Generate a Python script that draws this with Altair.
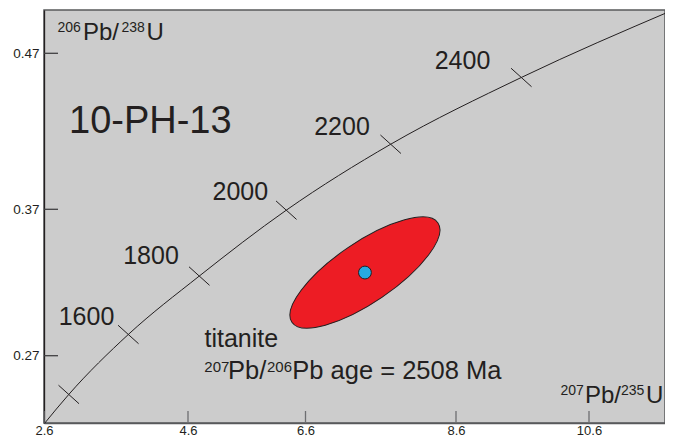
import altair as alt
import pandas as pd

# ---- axis ticks ----
x_ticks = [2.6, 4.6, 6.6, 8.6, 10.6]
y_ticks = [0.27, 0.37, 0.47]

# piecewise scale, matching the uneven tick spacing of the original figure
x_domain = [2.6, 4.6, 6.6, 8.6, 10.6, 11.74]
y_domain = [0.2240, 0.27, 0.37, 0.47, 0.4978]

# ---- concordia curve ----
curve_x = [2.6, 2.944, 3.771, 4.792, 6.273, 7.732, 9.582, 11.86]
curve_y = [0.2233, 0.2435, 0.2845, 0.3244, 0.3694, 0.4117, 0.4545, 0.4978]

# age ticks on the concordia (Ma)
tick_age = [1400, 1600, 1800, 2000, 2200, 2400]
tick_x = [2.944, 3.771, 4.792, 6.273, 7.732, 9.582]
tick_y = [0.2435, 0.2845, 0.3244, 0.3694, 0.4117, 0.4545]

# age labels
label_text = ["1600", "1800", "2000", "2200", "2400"]
label_x = [3.190, 4.086, 5.490, 7.085, 8.698]
label_y = [0.2910, 0.3326, 0.3760, 0.4176, 0.4599]

# titanite analysis (ellipse centre)
ell_x = [7.39]
ell_y = [0.3268]

W, H = 621, 413
INK = "#231f20"
FONT = "Liberation Sans"

xs = alt.Scale(domain=x_domain, range=[0, 144, 261.5, 412, 545, 621], nice=False, zero=False)
ys = alt.Scale(domain=y_domain, range=[413, 345.7, 199.3, 43.3, 0], nice=False, zero=False)

xa = alt.Axis(values=x_ticks, ticks=False, grid=False, labelFlush=False, labelPadding=1,
              labelFontSize=13, labelColor=INK, labelFont=FONT, format=".1f",
              domainColor="#58595b", domainWidth=1.5, title="")
ya = alt.Axis(values=y_ticks, ticks=False, grid=False, labelFlush=False, labelPadding=5,
              labelFontSize=13.5, labelColor=INK, labelFont=FONT, format=".2f",
              domainColor=INK, domainWidth=1.3, title="")


def X(f):
    return alt.X(f, type="quantitative", scale=xs, axis=xa)


def Y(f):
    return alt.Y(f, type="quantitative", scale=ys, axis=ya)


curve_df = pd.DataFrame({"x": curve_x, "y": curve_y})
ticks_df = pd.DataFrame({"age": tick_age, "x": tick_x, "y": tick_y})
labels_df = pd.DataFrame({"t": label_text, "x": label_x, "y": label_y})
ell_df = pd.DataFrame({"x": ell_x, "y": ell_y})
xt_df = pd.DataFrame({"v": x_ticks})
yt_df = pd.DataFrame({"v": y_ticks})

curve = alt.Chart(curve_df).mark_line(interpolate="monotone", color=INK, strokeWidth=1, clip=True).encode(
    x=X("x"), y=Y("y"))

age_ticks = alt.Chart(ticks_df).mark_point(
    shape="M-0.743,-0.670L0.743,0.670", size=762, filled=False, stroke=INK, strokeWidth=1, opacity=1
).encode(x=X("x"), y=Y("y"))

age_labels = alt.Chart(labels_df).mark_text(
    font=FONT, fontSize=25, color=INK, align="center", baseline="alphabetic"
).encode(x=X("x"), y=Y("y"), text="t:N")

ELL = ("M1,0C1,0.1883,0.5523,0.341,0,0.341C-0.5523,0.341,-1,0.1883,-1,0"
       "C-1,-0.1883,-0.5523,-0.341,0,-0.341C0.5523,-0.341,1,-0.1883,1,0Z")
ellipse = alt.Chart(ell_df).mark_point(
    shape=ELL, size=31188, angle=325.8, filled=True, fill="#ed1c24", stroke=INK, strokeWidth=1, opacity=1
).encode(x=X("x"), y=Y("y"))

dot = alt.Chart(ell_df).mark_point(
    shape="circle", size=165, filled=True, fill="#27aae1", stroke=INK, strokeWidth=1, opacity=1
).encode(x=X("x"), y=Y("y"))

xtick_rules = alt.Chart(xt_df).mark_rule(color="#6d6e71", strokeWidth=1.3).encode(
    x=X("v"), y=alt.value(H - 12), y2=alt.value(H))
ytick_rules = alt.Chart(yt_df).mark_rule(color="#414042", strokeWidth=1.3).encode(
    y=Y("v"), x=alt.value(0), x2=alt.value(14))


def txt(s, px, py, fs):
    return alt.Chart(pd.DataFrame({"t": [s]})).mark_text(
        font=FONT, fontSize=fs, color=INK, align="left", baseline="alphabetic"
    ).encode(x=alt.value(px), y=alt.value(py), text="t:N")


texts = [
    # y-axis title
    txt("206", 13.5, 21.7, 14), txt("Pb/", 39, 30, 24), txt("238", 77.5, 21.7, 14), txt("U", 102.5, 30, 24),
    # sample name
    txt("10-PH-13", 25, 123, 38),
    # mineral & age
    txt("titanite", 160.5, 337.3, 25),
    txt("207", 160.3, 362, 15), txt("Pb/", 184, 369, 25.5), txt("206", 223, 362, 15),
    txt("Pb age = 2508 Ma", 248.3, 369, 25.5),
    # x-axis title
    txt("207", 516.5, 385, 14), txt("Pb/", 541, 393.3, 24), txt("235", 577, 385, 14), txt("U", 602, 393.3, 24),
]

chart = alt.layer(curve, xtick_rules, ytick_rules, ellipse, dot, age_ticks, age_labels, *texts).properties(
    width=W, height=H,
    autosize=alt.AutoSizeParams(type="none"),
    padding={"left": 36, "top": 2, "right": 0, "bottom": 15},
    background="white",
).configure_view(fill="#cccccc", stroke="#58595b", strokeWidth=1.5)

chart.save("out.html", embed_options={"renderer": "svg", "actions": False})
